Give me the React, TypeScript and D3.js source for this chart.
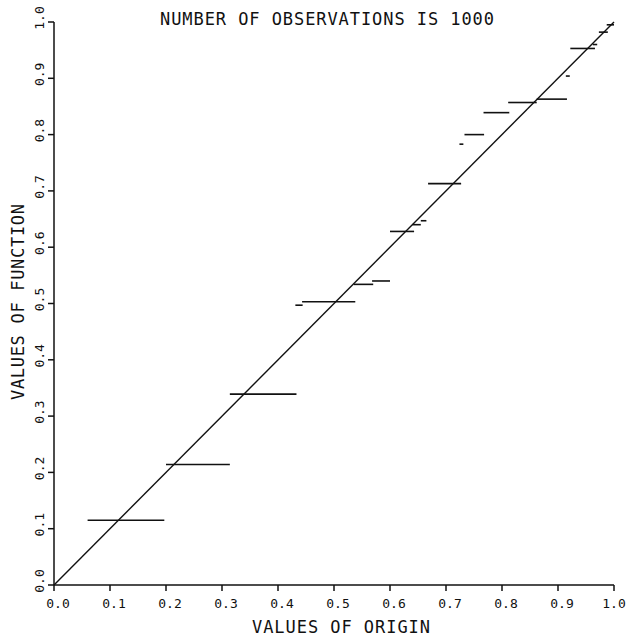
import React from "react";
import * as d3 from "d3";

// horizontal steps of the estimated function (x start, x end, level)
const stepX0 = [0.06, 0.2, 0.314, 0.431, 0.443, 0.535, 0.568, 0.6, 0.64, 0.655, 0.668, 0.724, 0.733, 0.767, 0.811, 0.862, 0.914, 0.922, 0.962, 0.973, 0.987];
const stepX1 = [0.197, 0.314, 0.433, 0.444, 0.538, 0.57, 0.6, 0.643, 0.655, 0.665, 0.727, 0.731, 0.768, 0.813, 0.862, 0.916, 0.921, 0.966, 0.97, 0.989, 1.0];
const stepY = [0.115, 0.214, 0.339, 0.497, 0.503, 0.534, 0.54, 0.628, 0.64, 0.647, 0.713, 0.783, 0.8, 0.839, 0.857, 0.863, 0.904, 0.953, 0.96, 0.982, 0.995];

const diagonal: [number, number][] = [[0, 0], [1, 1]];
const ticks = [0, 0.1, 0.2, 0.3, 0.4, 0.5, 0.6, 0.7, 0.8, 0.9, 1.0];

const title = "NUMBER OF OBSERVATIONS IS 1000";
const xTitle = "VALUES OF ORIGIN";
const yTitle = "VALUES OF FUNCTION";

const W = 628;
const H = 637;
const font = "'DejaVu Sans Mono', monospace";

export default function App() {
  const x = d3.scaleLinear().domain([0, 1]).range([54, 614]);
  const y = d3.scaleLinear().domain([0, 1]).range([585, 22]);
  const path = d3.line<[number, number]>()
    .x((d) => x(d[0]))
    .y((d) => y(d[1]));

  return (
    <svg width={W} height={H} style={{ position: "absolute", left: 0, top: 0, background: "#fff" }}>
      <text x={160} y={25} fontFamily={font} fontSize={17} textLength={334} lengthAdjust="spacing" fill="#111">
        {title}
      </text>

      {/* axes */}
      <g stroke="#111" strokeWidth={1.5} fill="none">
        <line x1={x(0)} x2={x(1)} y1={y(0)} y2={y(0)} />
        <line x1={x(0)} x2={x(0)} y1={y(0)} y2={y(1)} />
        {ticks.map((t) => (
          <line key={"xt" + t} x1={x(t)} x2={x(t)} y1={y(0)} y2={y(0) + 6} />
        ))}
        {ticks.map((t) => (
          <line key={"yt" + t} x1={x(0) - 6} x2={x(0)} y1={y(t)} y2={y(t)} />
        ))}
      </g>

      <g fontFamily={font} fontSize={13} fill="#111" textAnchor="middle">
        {ticks.map((t) => (
          <text key={"xl" + t} x={Math.min(x(t) + 4, 614)} y={608}>
            {t.toFixed(1)}
          </text>
        ))}
        {ticks.map((t) => (
          <text key={"yl" + t} transform={`translate(44,${Math.max(y(t) - 4, 14)}) rotate(-90)`}>
            {t.toFixed(1)}
          </text>
        ))}
      </g>

      <text x={252} y={633} fontFamily={font} fontSize={17} textLength={178} lengthAdjust="spacing" fill="#111">
        {xTitle}
      </text>
      <text transform="translate(24,400) rotate(-90)" fontFamily={font} fontSize={17} textLength={196} lengthAdjust="spacing" fill="#111">
        {yTitle}
      </text>

      <path d={path(diagonal) || ""} stroke="#111" strokeWidth={1.4} fill="none" />

      <g stroke="#111" strokeWidth={1.6}>
        {stepY.map((v, i) => (
          <line key={i} x1={x(stepX0[i])} x2={x(stepX1[i])} y1={y(v)} y2={y(v)} />
        ))}
      </g>
    </svg>
  );
}
